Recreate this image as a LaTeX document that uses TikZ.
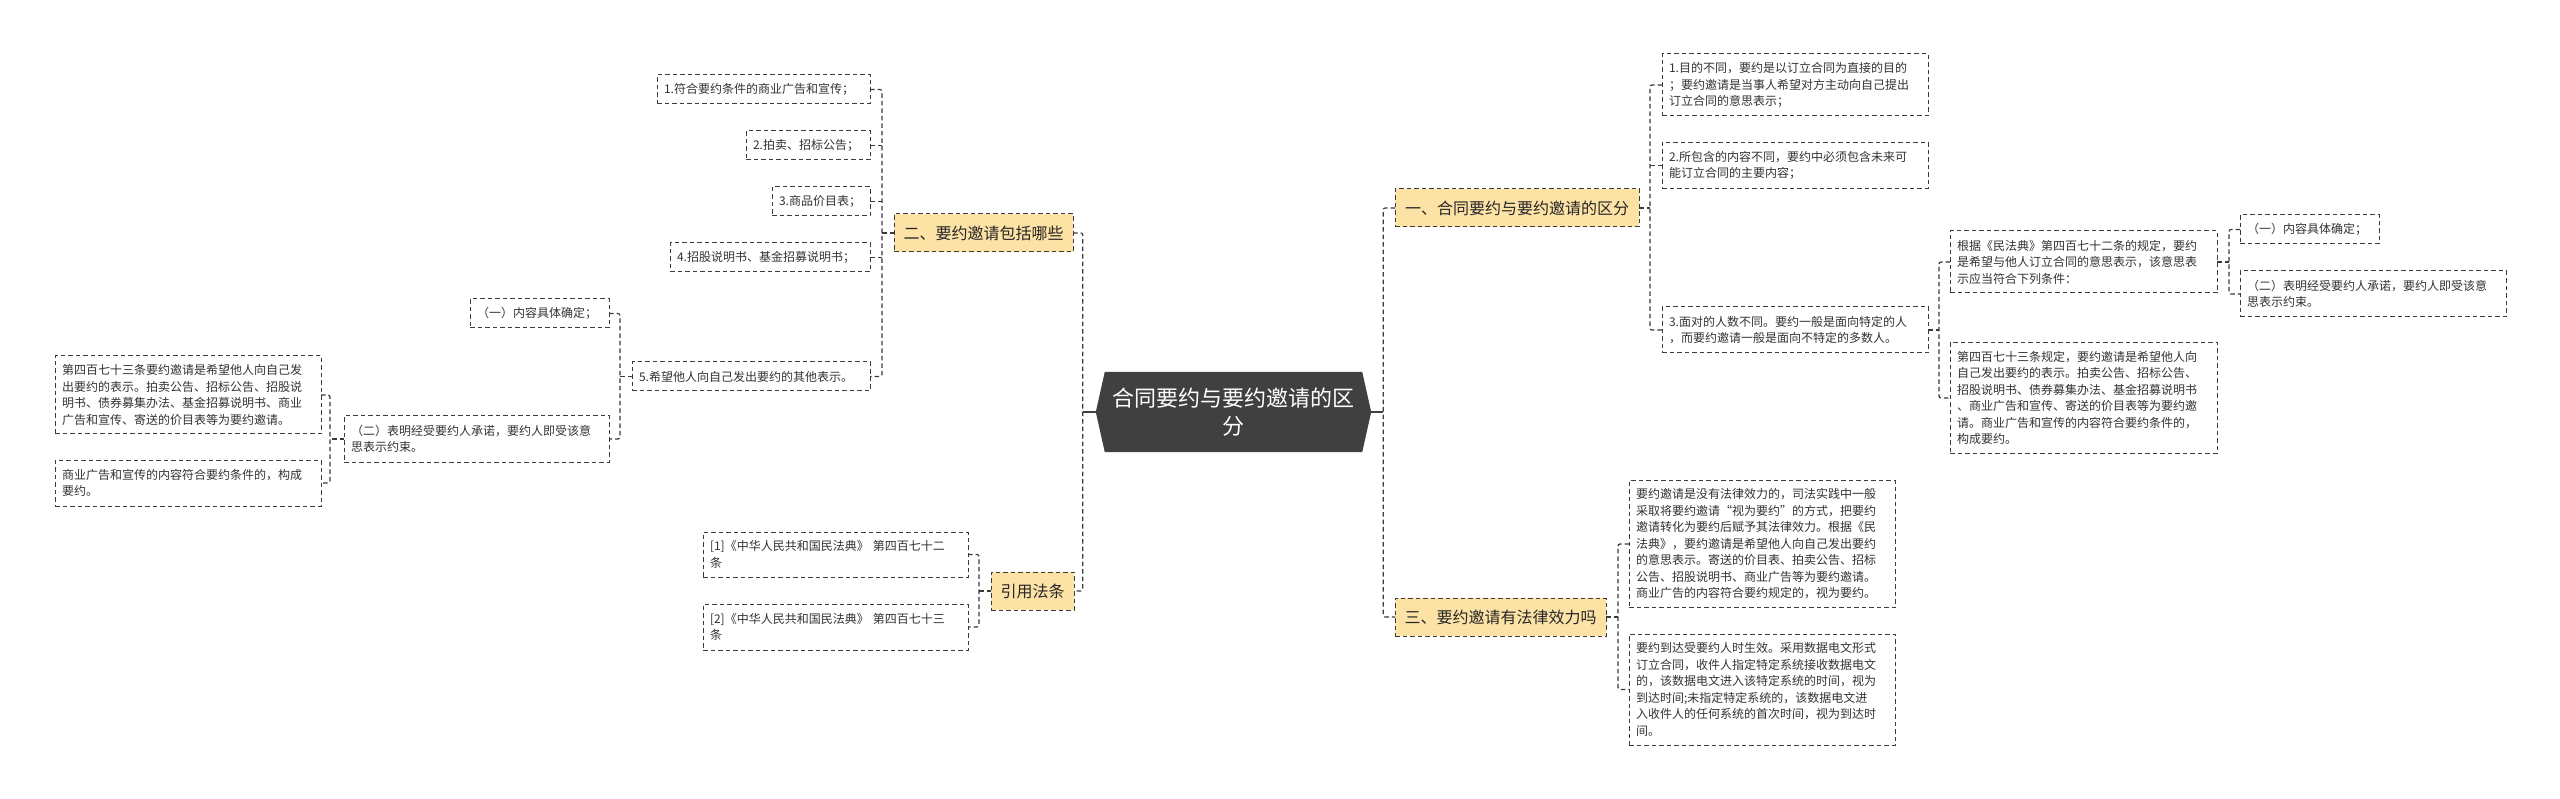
\documentclass[tikz,border=0pt]{standalone}
\usepackage{fontspec}
\setmainfont{Noto Sans CJK SC}
\usetikzlibrary{backgrounds,calc}
\definecolor{edgec}{HTML}{3A3A3A}
\definecolor{yel}{HTML}{FDE2A6}
\definecolor{darkc}{HTML}{404040}
\definecolor{txtc}{HTML}{333333}
\begin{document}
\begin{tikzpicture}[x=1pt,y=-1pt,
  tb/.style={draw=edgec, line width=1pt, dash pattern=on 4.5pt off 3pt, fill=white,
    inner xsep=7pt, inner ysep=0pt, outer sep=0pt, align=left, text=txtc,
    font=\fontsize{12}{16.5}\selectfont, anchor=center},
  yb/.style={draw=edgec, line width=1pt, dash pattern=on 4.5pt off 3pt, fill=yel,
    inner sep=0pt, outer sep=0pt, align=center, text=black!85,
    font=\fontsize{16}{20}\selectfont, anchor=center},
  conn/.style={draw=edgec, line width=1.2pt, dash pattern=on 4.5pt off 3pt, rounded corners=2pt},
  solidc/.style={draw=darkc, line width=2pt}
]
\useasboundingbox (0,0) rectangle (2560,799);

% centre
\node[font=\fontsize{22}{28}\selectfont, text=white, align=center, minimum width=275pt,
  minimum height=80pt, inner sep=0pt] (C) at (1233.5,412) {合同要约与要约邀请的区\\分};

% left: 二
\node[yb, minimum width=179pt, minimum height=38pt] (L2) at (983.5,233) {二、要约邀请包括哪些};
\node[tb, text width=199pt, minimum height=29pt] (a1) at (763.5,89.5) {1.符合要约条件的商业广告和宣传；};
\node[tb, text width=110pt, minimum height=29pt] (a2) at (808,145.5) {2.拍卖、招标公告；};
\node[tb, text width=84pt, minimum height=29pt] (a3) at (821,201.5) {3.商品价目表；};
\node[tb, text width=186pt, minimum height=29pt] (a4) at (770,257.5) {4.招股说明书、基金招募说明书；};
\node[tb, text width=224pt, minimum height=29pt] (a5) at (751,376.5) {5.希望他人向自己发出要约的其他表示。};
\node[tb, text width=125pt, minimum height=29pt] (b1) at (539.5,313.5) {（一）内容具体确定；};
\node[tb, text width=251pt, minimum height=46pt] (b2) at (476.5,439) {（二）表明经受要约人承诺，要约人即受该意\\思表示约束。};
\node[tb, text width=252pt, minimum height=78pt] (c1) at (188,395) {第四百七十三条要约邀请是希望他人向自己发\\出要约的表示。拍卖公告、招标公告、招股说\\明书、债券募集办法、基金招募说明书、商业\\广告和宣传、寄送的价目表等为要约邀请。};
\node[tb, text width=252pt, minimum height=46pt] (c2) at (188,483) {商业广告和宣传的内容符合要约条件的，构成\\要约。};

% left: 引用法条
\node[yb, minimum width=83pt, minimum height=38pt] (R) at (1032.5,591) {引用法条};
\node[tb, text width=251pt, minimum height=45pt] (r1) at (835.5,554.5) {[1]《中华人民共和国民法典》 第四百七十二\\条};
\node[tb, text width=251pt, minimum height=46pt] (r2) at (835.5,627) {[2]《中华人民共和国民法典》 第四百七十三\\条};

% right: 一
\node[yb, minimum width=244pt, minimum height=38pt] (O) at (1517,208) {一、合同要约与要约邀请的区分};
\node[tb, text width=252pt, minimum height=62pt] (o1) at (1795,85) {1.目的不同，要约是以订立合同为直接的目的\\；要约邀请是当事人希望对方主动向自己提出\\订立合同的意思表示；};
\node[tb, text width=252pt, minimum height=46pt] (o2) at (1795,165.5) {2.所包含的内容不同，要约中必须包含未来可\\能订立合同的主要内容；};
\node[tb, text width=252pt, minimum height=46pt] (o3) at (1795,330) {3.面对的人数不同。要约一般是面向特定的人\\，而要约邀请一般是面向不特定的多数人。};
\node[tb, text width=253pt, minimum height=62pt] (p1) at (2083.5,262) {根据《民法典》第四百七十二条的规定，要约\\是希望与他人订立合同的意思表示，该意思表\\示应当符合下列条件：};
\node[tb, text width=253pt, minimum height=111pt] (p2) at (2083.5,398) {第四百七十三条规定，要约邀请是希望他人向\\自己发出要约的表示。拍卖公告、招标公告、\\招股说明书、债券募集办法、基金招募说明书\\、商业广告和宣传、寄送的价目表等为要约邀\\请。商业广告和宣传的内容符合要约条件的，\\构成要约。};
\node[tb, text width=125pt, minimum height=29pt] (q1) at (2309.5,229.5) {（一）内容具体确定；};
\node[tb, text width=252pt, minimum height=46pt] (q2) at (2373,294) {（二）表明经受要约人承诺，要约人即受该意\\思表示约束。};

% right: 三
\node[yb, minimum width=211pt, minimum height=38pt] (T) at (1500.5,617) {三、要约邀请有法律效力吗};
\node[tb, text width=252pt, minimum height=127pt] (s1) at (1762,544) {要约邀请是没有法律效力的，司法实践中一般\\采取将要约邀请“视为要约”的方式，把要约\\邀请转化为要约后赋予其法律效力。根据《民\\法典》，要约邀请是希望他人向自己发出要约\\的意思表示。寄送的价目表、拍卖公告、招标\\公告、招股说明书、商业广告等为要约邀请。\\商业广告的内容符合要约规定的，视为要约。};
\node[tb, text width=252pt, minimum height=111pt] (s2) at (1762,689.5) {要约到达受要约人时生效。采用数据电文形式\\订立合同，收件人指定特定系统接收数据电文\\的，该数据电文进入该特定系统的时间，视为\\到达时间;未指定特定系统的，该数据电文进\\入收件人的任何系统的首次时间，视为到达时\\间。};

% background + hexagon
\begin{scope}[on background layer]
  \fill[white] (0,0) rectangle (2560,799);
  \fill[darkc] ($(C.north west)+(9,0)$) -- ($(C.north east)+(-9,0)$) -- (C.east)
    -- ($(C.south east)+(-9,0)$) -- ($(C.south west)+(9,0)$) -- (C.west) -- cycle;
\end{scope}

% connectors: centre
\draw[solidc] (C.west) -- ++(-13,0) coordinate (CLt);
\draw[conn] (L2.east) -- (L2.east -| CLt) -- (R.east -| CLt) -- (R.east);
\draw[solidc] (C.east) -- ++(12,0) coordinate (CRt);
\draw[conn] (O.west) -- (O.west -| CRt) -- (T.west -| CRt) -- (T.west);

% 二
\draw[conn] (L2.west) -- ++(-12,0) coordinate (L2t);
\draw[conn] (a1.east) -- (a1.east -| L2t) -- (a5.east -| L2t) -- (a5.east);
\foreach \n in {a2,a3,a4} \draw[conn] (\n.east) -- (\n.east -| L2t);
\draw[conn] (a5.west) -- ++(-12,0) coordinate (a5t);
\draw[conn] (b1.east) -- (b1.east -| a5t) -- (b2.east -| a5t) -- (b2.east);
\draw[conn] (b2.west) -- ++(-14,0) coordinate (b2t);
\draw[conn] (c1.east) -- (c1.east -| b2t) -- (c2.east -| b2t) -- (c2.east);

% 引用法条
\draw[conn] (R.west) -- ++(-12,0) coordinate (Rt);
\draw[conn] (r1.east) -- (r1.east -| Rt) -- (r2.east -| Rt) -- (r2.east);

% 一
\draw[conn] (O.east) -- ++(11,0) coordinate (Ot);
\draw[conn] (o1.west) -- (o1.west -| Ot) -- (o3.west -| Ot) -- (o3.west);
\draw[conn] (o2.west) -- (o2.west -| Ot);
\draw[conn] (o3.east) -- ++(11,0) coordinate (o3t);
\draw[conn] (p1.west) -- (p1.west -| o3t) -- (p2.west -| o3t) -- (p2.west);
\draw[conn] (p1.east) -- ++(12,0) coordinate (p1t);
\draw[conn] (q1.west) -- (q1.west -| p1t) -- (q2.west -| p1t) -- (q2.west);

% 三
\draw[conn] (T.east) -- ++(12,0) coordinate (Tt);
\draw[conn] (s1.west) -- (s1.west -| Tt) -- (s2.west -| Tt) -- (s2.west);
\end{tikzpicture}
\end{document}
